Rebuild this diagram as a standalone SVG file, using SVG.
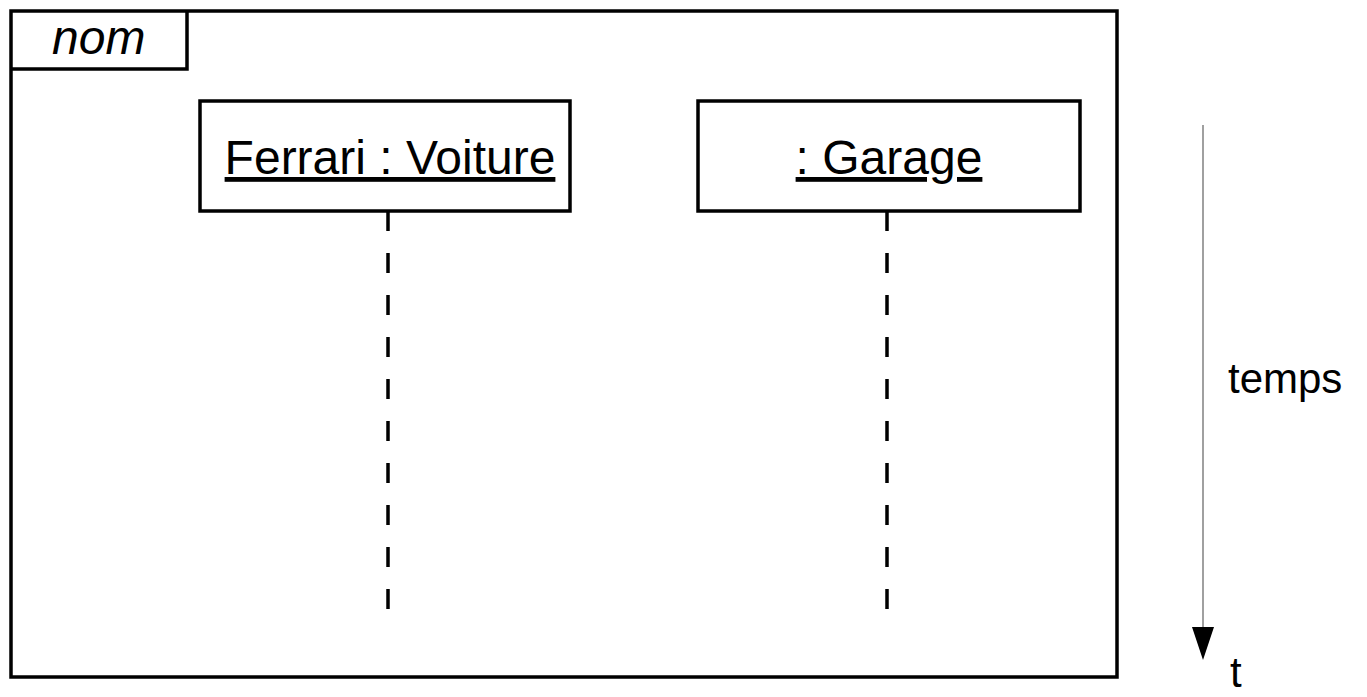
<svg xmlns="http://www.w3.org/2000/svg" width="1367" height="697" viewBox="0 0 1367 697">
  <style>
    .frame { fill: none; stroke: #000; stroke-width: 3.5; }
    .box { fill: #fff; stroke: #000; stroke-width: 3.5; }
    .label { font-family: "Liberation Sans", Arial, sans-serif; font-size: 48px; fill: #000; }
    .axis-label { font-size: 42px; }
    .obj { text-anchor: middle; text-decoration: underline; }
    .lifeline { stroke: #000; stroke-width: 3.5; stroke-dasharray: 20 22; fill: none; }
    .time { stroke: #808080; stroke-width: 1.5; fill: none; }
  </style>

  <!-- sequence frame with its name tab -->
  <g id="frame">
    <rect class="frame" x="11" y="11" width="1106" height="666"/>
    <polyline class="frame" points="11,69 187,69 187,11"/>
    <text class="label" x="52" y="54" font-style="italic">nom</text>
  </g>

  <!-- lifelines -->
  <g id="connectors">
    <line class="lifeline" x1="388" y1="211" x2="388" y2="613"/>
    <line class="lifeline" x1="887" y1="211" x2="887" y2="613"/>
  </g>

  <g id="ferrari">
    <rect class="box" x="200" y="101" width="370" height="110"/>
    <text class="label obj" x="390" y="174">Ferrari : Voiture</text>
  </g>

  <g id="garage">
    <rect class="box" x="698" y="101" width="382" height="110"/>
    <text class="label obj" x="889" y="174">: Garage</text>
  </g>

  <!-- time axis -->
  <g id="time-axis">
    <line class="time" x1="1203" y1="125" x2="1203" y2="628"/>
    <path d="M1192,627 L1214,627 L1203,660 Z" fill="#000"/>
    <text class="label axis-label" x="1228" y="393">temps</text>
    <text class="label axis-label" x="1230" y="687">t</text>
  </g>
</svg>
